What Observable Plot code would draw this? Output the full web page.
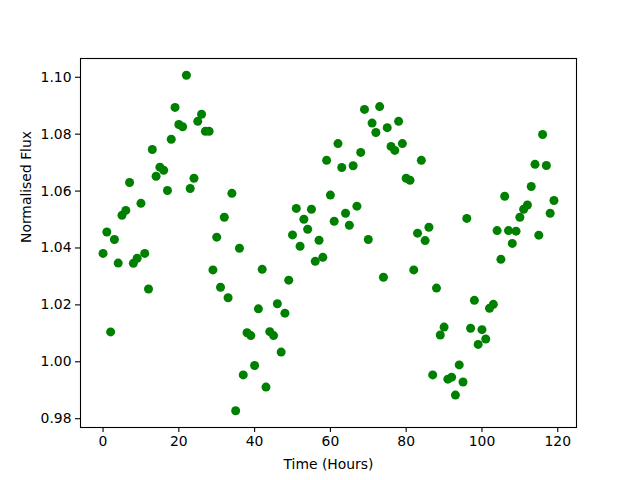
<!DOCTYPE html>
<html>
<head>
<meta charset="utf-8">
<script src="https://cdn.jsdelivr.net/npm/d3@7"></script>
<script src="https://cdn.jsdelivr.net/npm/@observablehq/plot@0.6"></script>
<style>
  html, body { margin: 0; padding: 0; background: #fff; }
</style>
</head>
<body>
<div id="chart"></div>
<script>
const hours = [
  0,1,2,3,4,5,6,7,8,9,10,11,12,13,14,15,16,17,18,19,
  20,21,22,23,24,25,26,27,28,29,30,31,32,33,34,35,36,37,38,39,
  40,41,42,43,44,45,46,47,48,49,50,51,52,53,54,55,56,57,58,59,
  60,61,62,63,64,65,66,67,68,69,70,71,72,73,74,75,76,77,78,79,
  80,81,82,83,84,85,86,87,88,89,90,91,92,93,94,95,96,97,98,99,
  100,101,102,103,104,105,106,107,108,109,110,111,112,113,114,115,116,117,118,119
];
const flux = [
  1.0381,1.0456,1.0105,1.0430,1.0347,1.0515,1.0532,1.0630,1.0346,1.0364,
  1.0557,1.0381,1.0256,1.0746,1.0652,1.0684,1.0673,1.0602,1.0782,1.0894,
  1.0834,1.0826,1.1007,1.0609,1.0645,1.0845,1.0870,1.0810,1.0810,1.0323,
  1.0438,1.0262,1.0508,1.0225,1.0592,0.9828,1.0399,0.9954,1.0102,1.0092,
  0.9987,1.0186,1.0325,0.9911,1.0106,1.0092,1.0204,1.0034,1.0171,1.0287,
  1.0446,1.0539,1.0406,1.0501,1.0466,1.0536,1.0353,1.0427,1.0367,1.0708,
  1.0586,1.0494,1.0767,1.0683,1.0522,1.0480,1.0689,1.0547,1.0736,1.0887,
  1.0430,1.0839,1.0806,1.0897,1.0297,1.0823,1.0757,1.0743,1.0845,1.0767,
  1.0645,1.0638,1.0323,1.0452,1.0708,1.0426,1.0473,0.9954,1.0259,1.0094,
  1.0122,0.9939,0.9946,0.9883,0.9989,0.9929,1.0504,1.0118,1.0216,1.0061,
  1.0113,1.0080,1.0188,1.0202,1.0461,1.0360,1.0582,1.0461,1.0416,1.0459,
  1.0508,1.0536,1.0551,1.0616,1.0694,1.0445,1.0799,1.0690,1.0522,1.0567
];
const xTicks = [0, 20, 40, 60, 80, 100, 120];
const yTicks = [0.98, 1.00, 1.02, 1.04, 1.06, 1.08, 1.10];
const xLabel = "Time (Hours)";
const yLabel = "Normalised Flux";

const data = hours.map((h, i) => ({hour: h, flux: flux[i]}));

// matplotlib-like 5% margins
const xExt = d3.extent(hours), yExt = d3.extent(flux);
const xPad = (xExt[1] - xExt[0]) * 0.05, yPad = (yExt[1] - yExt[0]) * 0.05;

const chart = Plot.plot({
  width: 640,
  height: 480,
  marginLeft: 80,
  marginRight: 64,
  marginTop: 58,
  marginBottom: 53,
  style: {fontFamily: "DejaVu Sans, sans-serif", fontSize: "13.9px", background: "white", color: "black"},
  x: {domain: [xExt[0] - xPad, xExt[1] + xPad]},
  y: {domain: [yExt[0] - yPad, yExt[1] + yPad]},
  marks: [
    Plot.dot(data, {x: "hour", y: "flux", r: 4.5, fill: "#008000", stroke: null}),
    Plot.frame({stroke: "black", strokeWidth: 1.1}),
    Plot.axisX({ticks: xTicks, tickFormat: d3.format("d"), tickSize: 5, tickPadding: 4, strokeWidth: 1.1, label: null}),
    Plot.axisY({ticks: yTicks, tickFormat: d3.format(".2f"), tickSize: 5, tickPadding: 4, strokeWidth: 1.1, label: null}),
    Plot.text([xLabel], {frameAnchor: "bottom", dy: 37, text: d => d, lineAnchor: "middle"}),
    Plot.text([yLabel], {frameAnchor: "left", dx: -54, rotate: -90, text: d => d, lineAnchor: "middle"})
  ]
});
document.getElementById("chart").appendChild(chart);
</script>
</body>
</html>
